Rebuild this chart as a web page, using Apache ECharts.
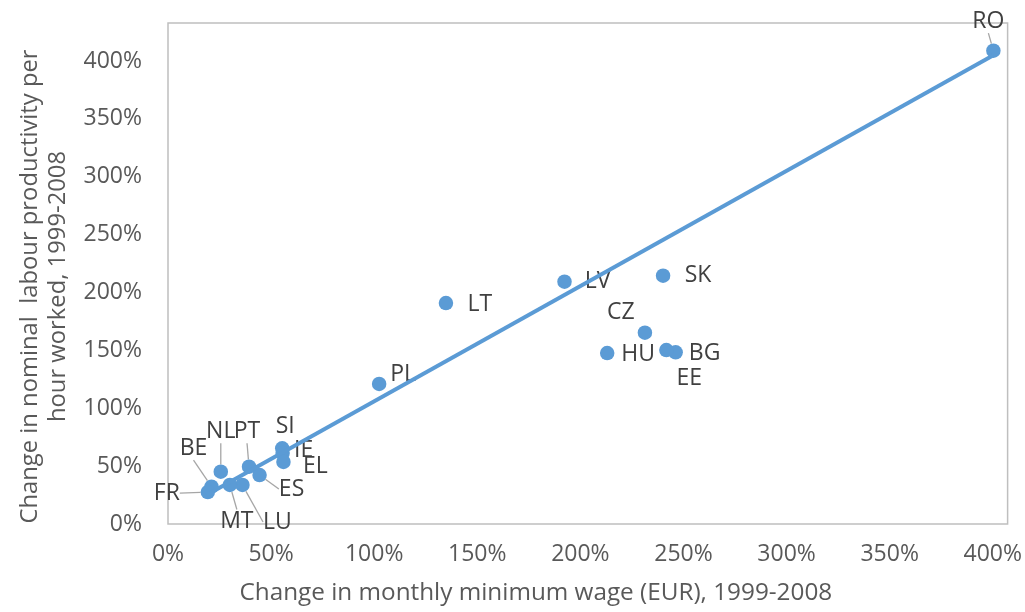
<!DOCTYPE html>
<html><head><meta charset="utf-8">
<script src="https://cdn.jsdelivr.net/npm/echarts@6/dist/echarts.min.js"></script>
<style>html,body{margin:0;padding:0;background:#fff}#chart{width:1025px;height:612px}</style>
</head><body><div id="chart"></div>
<script>
// ---- data ----
const countries = ['RO','SK','LV','LT','CZ','HU','BG','EE','PL','SI','IE','EL','ES','PT','LU','MT','NL','BE','FR'];
const wageChange = [400.3,240.1,192.3,134.8,231.3,213.0,246.2,241.7,102.4,55.4,55.6,56.0,44.4,39.3,36.1,30.0,25.6,21.1,19.3];
const productivityChange = [408.9,214.5,209.3,190.9,165.3,147.7,148.3,150.3,121.0,65.4,61.3,53.6,42.3,49.5,33.7,33.7,45.2,32.2,27.6];
const trendWage = [18.7, 400.3];
const trendProductivity = [25.0, 405.0];
const axisTickValues = [0, 50, 100, 150, 200, 250, 300, 350, 400];
const xAxisTitle = 'Change in monthly minimum wage (EUR), 1999-2008';
const yAxisTitle = 'Change in nominal  labour productivity per\nhour worked, 1999-2008';

// ---- layout (label offsets in px, relative to the point) ----
const labelOffsets = {
  RO:[-5,-29], SK:[35,0], LV:[33,0], LT:[34,1], CZ:[-24,-20], HU:[31,1], BG:[29,1], EE:[23,28],
  PL:[24,-9], SI:[3,-22], IE:[21,-3], EL:[32,4], ES:[32,14], NL:[0,-40], PT:[-2,-35],
  BE:[-18,-38], FR:[-41,1], MT:[7,36], LU:[35,37]
};
const withLeader = ['RO','NL','PT','BE','FR','MT','LU','ES'];

const blue = '#5B9BD5';
const font = '"Open Sans", sans-serif';

const scatterData = countries.map((c, i) => ({
  name: c,
  value: [wageChange[i], productivityChange[i]],
  labelLine: { show: withLeader.indexOf(c) >= 0 }
}));
const trendData = trendWage.map((x, i) => [x, trendProductivity[i]]);

const chart = echarts.init(document.getElementById('chart'), null, { renderer: 'canvas' });
const tickFmt = v => axisTickValues.indexOf(v) >= 0 ? v + '%' : '';
chart.setOption({
  animation: false,
  backgroundColor: '#fff',
  grid: { left: 168, top: 23, right: 14, bottom: 88, show: true, borderColor: '#BFBFBF', borderWidth: 1.5 },
  xAxis: {
    type: 'value', min: 0, max: 407.2, interval: 50,
    axisLine: { show: false }, axisTick: { show: false }, splitLine: { show: false },
    axisLabel: { formatter: tickFmt, showMaxLabel: false, color: '#595959', fontFamily: font, fontSize: 23, margin: 19 },
    name: xAxisTitle, nameLocation: 'middle', nameGap: 55,
    nameTextStyle: { color: '#595959', fontFamily: font, fontSize: 24.3, lineHeight: 28, padding: [0, 104, 0, 0] }
  },
  yAxis: {
    type: 'value', min: 0, max: 432.8, interval: 50,
    axisLine: { show: false }, axisTick: { show: false }, splitLine: { show: false },
    axisLabel: { formatter: tickFmt, showMaxLabel: false, color: '#595959', fontFamily: font, fontSize: 23, margin: 26 },
    name: yAxisTitle, nameLocation: 'middle', nameGap: 96,
    nameTextStyle: { color: '#595959', fontFamily: font, fontSize: 23.8, lineHeight: 28, padding: [0, 26, 0, 0] }
  },
  series: [
    {
      type: 'scatter', data: scatterData, symbolSize: 14.5,
      itemStyle: { color: blue, opacity: 1 },
      label: { show: true, position: 'inside', formatter: '{b}', color: '#404040', fontFamily: font, fontSize: 23 },
      labelLine: { lineStyle: { color: '#A6A6A6', width: 1.3 } },
      labelLayout: p => { const o = labelOffsets[countries[p.dataIndex]]; return { dx: o[0], dy: o[1] }; },
      z: 2
    },
    {
      type: 'line', data: trendData, showSymbol: false, symbol: 'none',
      lineStyle: { color: blue, width: 4 }, silent: true, z: 3
    }
  ]
});
</script>
</body></html>
